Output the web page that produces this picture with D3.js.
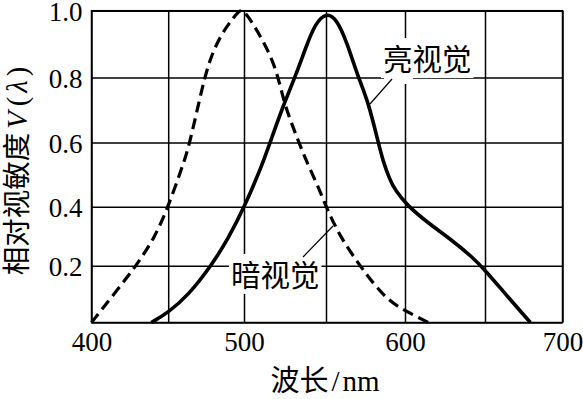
<!DOCTYPE html>
<html><head><meta charset="utf-8">
<script src="https://cdn.jsdelivr.net/npm/d3@7/dist/d3.min.js"></script>
<style>body{margin:0;background:#fff}</style>
</head><body><svg id="c" width="583" height="399"></svg>
<script>
// ---- data ----
const xTicks = [400, 450, 500, 550, 600, 650, 700];
const xTickLabels = ["400", "", "500", "", "600", "", "700"];
const yTicks = [0, 0.2, 0.4, 0.6, 0.8, 1.0];
const yTickLabels = ["", "0.2", "0.4", "0.6", "0.8", "1.0"];

// scotopic (暗视觉) — dashed
const scotopicNm = [400, 415.1, 429.2, 441.2, 450, 460.9, 464.2, 469.7, 474.1, 478.4, 485, 493.9, 498, 500.6, 505.7, 511.8, 517.9, 522, 525, 530.1, 534.1, 538.2, 545.3, 550, 558.9, 571.5, 579.9, 588.4, 596.8, 614.6];
const scotopicV  = [0, 0.103, 0.2, 0.295, 0.4, 0.545, 0.6, 0.712, 0.8, 0.865, 0.93, 0.985, 1.005, 0.995, 0.96, 0.907, 0.847, 0.777, 0.715, 0.644, 0.592, 0.540, 0.462, 0.4, 0.298, 0.2, 0.138, 0.085, 0.050, 0];

// photopic (亮视觉) — solid
const photopicNm = [439, 450, 463.1, 478.4, 489.4, 500.4, 511.8, 515.9, 524, 531.1, 538.2, 543.3, 550, 556.8, 563.1, 570.4, 576.7, 583.1, 586.2, 590.5, 593.7, 601.1, 614.6, 629.2, 641.7, 650, 664.6, 679.3];
const photopicV  = [0, 0.035, 0.095, 0.2, 0.29, 0.4, 0.540, 0.6, 0.715, 0.8, 0.897, 0.96, 0.995, 0.975, 0.907, 0.8, 0.726, 0.6, 0.540, 0.483, 0.452, 0.405, 0.344, 0.287, 0.231, 0.185, 0.091, 0];

const xTitle = ["波长", "/", "nm"];
const yTitle = ["相对视敏度", "V", "(", "λ", ")"];
const labelPhotopic = "亮视觉";
const labelScotopic = "暗视觉";

// ---- scales (drawing has slightly uneven grid spacing) ----
const x = d3.scaleLinear().domain(xTicks).range([91.5, 168.2, 244, 326, 405, 485, 562.5]);
const y = d3.scaleLinear().domain(yTicks).range([322.5, 265.7, 206.7, 142.5, 77.5, 10.7]);
const L = x(400), R = x(700), T = y(1), B = y(0);

const svg = d3.select("#c");
const serif = "'Liberation Serif','Times New Roman',serif";
const cjk = "'Noto Sans CJK SC','Noto Sans CJK JP',sans-serif";

// grid via axes
const gx = svg.append("g").attr("transform", `translate(0,${B})`)
  .call(d3.axisBottom(x).tickValues(xTicks).tickSize(-(B - T)).tickPadding(9)
    .tickFormat((d, i) => xTickLabels[i]));
const gy = svg.append("g").attr("transform", `translate(${L},0)`)
  .call(d3.axisLeft(y).tickValues(yTicks).tickSize(-(R - L)).tickPadding(9)
    .tickFormat((d, i) => yTickLabels[i]));
[gx, gy].forEach(g => {
  g.select(".domain").remove();
  g.selectAll(".tick line").attr("stroke", "#000").attr("stroke-width", 1.5);
  g.selectAll(".tick text").attr("fill", "#000").attr("font-family", serif).attr("font-size", 27);
});
gy.selectAll(".tick text").attr("dy", "0.38em");

svg.append("rect").attr("x", L).attr("y", T).attr("width", R - L).attr("height", B - T)
  .attr("fill", "none").attr("stroke", "#000").attr("stroke-width", 1.5);

// annotation labels with white backgrounds
function label(txt, tx, ty, lx1, ly1, lx2, ly2, extra) {
  const g = svg.append("g");
  const t = g.append("text").attr("x", tx).attr("y", ty)
    .attr("font-family", cjk).attr("font-size", 29.5).attr("fill", "#000").text(txt);
  const b = t.node().getBBox();
  g.insert("rect", "text").attr("x", b.x - 2).attr("y", b.y + 2).attr("width", b.width + 4).attr("height", b.height - 2).attr("fill", "#fff");
  if (extra) g.insert("rect", "text").attr("x", extra[0]).attr("y", extra[1]).attr("width", extra[2]).attr("height", extra[3]).attr("fill", "#fff");
  g.append("line").attr("x1", lx1).attr("y1", ly1).attr("x2", lx2).attr("y2", ly2)
    .attr("stroke", "#000").attr("stroke-width", 1.2);
}
label(labelPhotopic, 383, 70, 392, 79, 370, 104, [384, 72, 29, 12]);
label(labelScotopic, 231, 286, 333, 226, 303, 257);

// curves
const line = d3.line().x(d => x(d[0])).y(d => y(d[1])).curve(d3.curveBasis);
svg.append("path").datum(scotopicNm.map((n, i) => [n, scotopicV[i]]))
  .attr("d", line).attr("fill", "none").attr("stroke", "#000").attr("stroke-width", 3.2)
  .attr("stroke-dasharray", "11,6");
svg.append("path").datum(photopicNm.map((n, i) => [n, photopicV[i]]))
  .attr("d", line).attr("fill", "none").attr("stroke", "#000").attr("stroke-width", 3.6)
  .attr("stroke-linejoin", "round");

// axis titles
const xt = svg.append("text").attr("x", 325).attr("y", 391).attr("text-anchor", "middle")
  .attr("font-size", 29).attr("fill", "#000");
xt.append("tspan").attr("font-family", cjk).text(xTitle[0]);
xt.append("tspan").attr("font-family", serif).attr("dx", 3).text(xTitle[1]);
xt.append("tspan").attr("font-family", serif).attr("dx", 3).text(xTitle[2]);

const yt = svg.append("text").attr("transform", "translate(27,171) rotate(-90)")
  .attr("text-anchor", "middle").attr("font-size", 28.5).attr("fill", "#000");
yt.append("tspan").attr("font-family", cjk).text(yTitle[0]);
yt.append("tspan").attr("font-family", serif).attr("font-style", "italic").attr("dx", 4).text(yTitle[1]);
yt.append("tspan").attr("font-family", serif).attr("dx", 5).text(yTitle[2]);
yt.append("tspan").attr("font-family", serif).attr("font-style", "italic").attr("dx", 4).text(yTitle[3]);
yt.append("tspan").attr("font-family", serif).attr("dx", 4).text(yTitle[4]);
</script></body></html>
